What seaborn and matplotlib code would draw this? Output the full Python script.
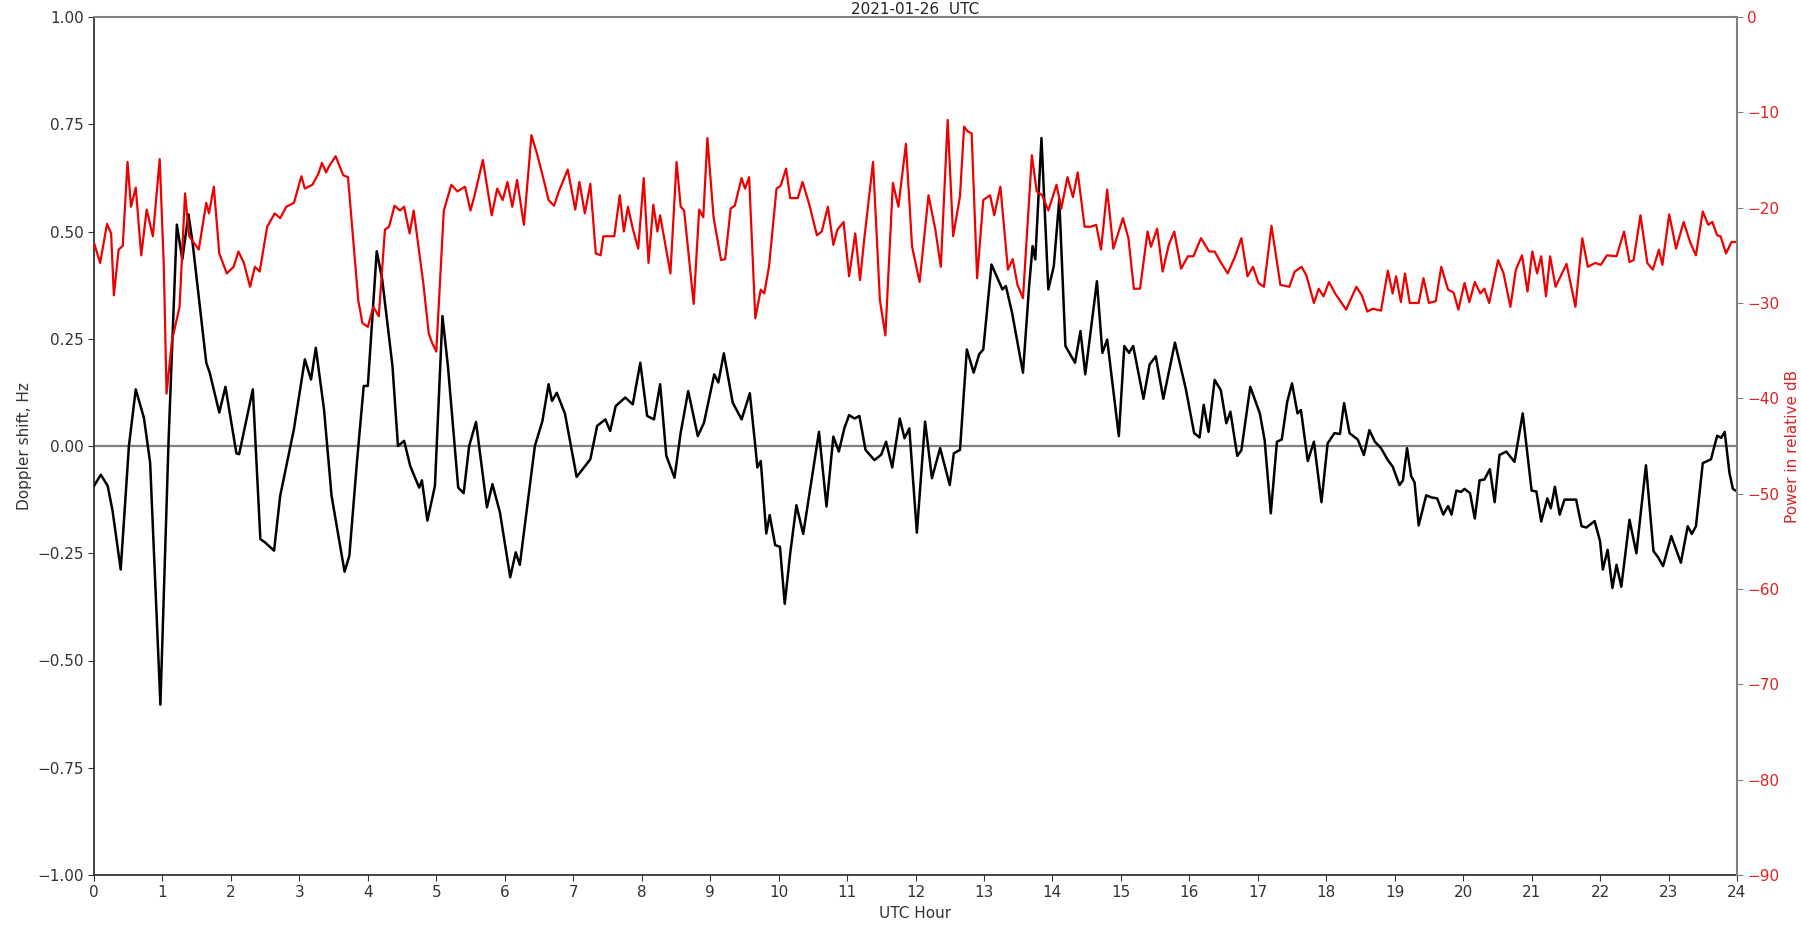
import numpy as np
import pandas as pd
import matplotlib
matplotlib.use("Agg")
import matplotlib.pyplot as plt
import seaborn as sns

# ---------------- data ----------------
doppler_hours = [
    0.00, 0.10, 0.20, 0.27, 0.39, 0.51, 0.61, 0.73, 0.82, 0.97, 1.09, 1.21, 1.29, 1.38, 1.44, 1.53,
    1.64, 1.69, 1.83, 1.92, 2.08, 2.12, 2.32, 2.43, 2.50, 2.63, 2.72, 2.92, 3.08, 3.17, 3.24, 3.36,
    3.47, 3.66, 3.73, 3.84, 3.94, 4.00, 4.13, 4.21, 4.36, 4.44, 4.53, 4.62, 4.75, 4.79, 4.87, 4.98,
    5.09, 5.17, 5.32, 5.40, 5.48, 5.58, 5.74, 5.82, 5.93, 6.08, 6.16, 6.22, 6.44, 6.55, 6.64, 6.69,
    6.76, 6.88, 7.05, 7.25, 7.35, 7.47, 7.54, 7.62, 7.76, 7.87, 7.98, 8.08, 8.18, 8.27, 8.36, 8.48,
    8.57, 8.68, 8.82, 8.91, 9.06, 9.12, 9.20, 9.33, 9.46, 9.58, 9.66, 9.69, 9.74, 9.82, 9.87, 9.95,
    10.02, 10.09, 10.17, 10.26, 10.36, 10.49, 10.59, 10.70, 10.80, 10.88, 10.96, 11.03, 11.11, 11.18,
    11.27, 11.40, 11.50, 11.57, 11.66, 11.77, 11.84, 11.91, 12.02, 12.14, 12.24, 12.36, 12.50, 12.56,
    12.65, 12.75, 12.85, 12.93, 12.99, 13.11, 13.27, 13.32, 13.41, 13.57, 13.66, 13.71, 13.75, 13.84,
    13.94, 14.02, 14.10, 14.19, 14.33, 14.41, 14.48, 14.65, 14.73, 14.80, 14.97, 15.05, 15.12, 15.18,
    15.33, 15.42, 15.51, 15.62, 15.79, 15.95, 16.07, 16.15, 16.21, 16.28, 16.37, 16.46, 16.54, 16.60,
    16.70, 16.76, 16.89, 17.03, 17.10, 17.19, 17.28, 17.35, 17.43, 17.50, 17.58, 17.63, 17.73, 17.82,
    17.93, 18.02, 18.12, 18.20, 18.26, 18.34, 18.46, 18.55, 18.63, 18.71, 18.80, 18.90, 18.97, 19.07,
    19.12, 19.18, 19.24, 19.29, 19.35, 19.46, 19.54, 19.62, 19.71, 19.78, 19.83, 19.90, 19.97, 20.02,
    20.10, 20.17, 20.24, 20.31, 20.39, 20.46, 20.53, 20.63, 20.75, 20.87, 21.00, 21.07, 21.14, 21.23,
    21.28, 21.34, 21.41, 21.48, 21.65, 21.73, 21.80, 21.92, 22.00, 22.04, 22.11, 22.18, 22.24, 22.31,
    22.43, 22.53, 22.67, 22.78, 22.85, 22.92, 23.04, 23.18, 23.28, 23.34, 23.40, 23.50, 23.62, 23.71,
    23.77, 23.82, 23.89, 23.94, 24.00,
]
doppler_hz = [
    -0.093, -0.067, -0.093, -0.15, -0.288, 0.0, 0.132, 0.065, -0.039, -0.603, 0.016, 0.516, 0.435, 0.54, 0.474, 0.349,
    0.194, 0.171, 0.078, 0.138, -0.017, -0.019, 0.132, -0.217, -0.225, -0.244, -0.116, 0.039, 0.202, 0.155, 0.229, 0.085,
    -0.116, -0.293, -0.256, -0.039, 0.14, 0.14, 0.454, 0.388, 0.186, 0.0, 0.012, -0.047, -0.097, -0.08, -0.174, -0.093,
    0.303, 0.186, -0.097, -0.11, 0.0, 0.056, -0.143, -0.089, -0.155, -0.306, -0.248, -0.277, 0.0, 0.058, 0.144, 0.105,
    0.124, 0.075, -0.072, -0.031, 0.047, 0.062, 0.035, 0.093, 0.113, 0.097, 0.194, 0.07, 0.062, 0.144, -0.023, -0.074,
    0.031, 0.128, 0.023, 0.054, 0.167, 0.148, 0.216, 0.101, 0.062, 0.123, 0.0, -0.05, -0.035, -0.204, -0.161, -0.231,
    -0.235, -0.368, -0.25, -0.138, -0.205, -0.071, 0.033, -0.141, 0.022, -0.013, 0.041, 0.072, 0.064, 0.07,
    -0.009, -0.033, -0.02, 0.01, -0.05, 0.064, 0.018, 0.041, -0.202, 0.057, -0.075, -0.005, -0.091, -0.017,
    -0.009, 0.225, 0.171, 0.214, 0.225, 0.423, 0.365, 0.373, 0.311, 0.171, 0.373, 0.466, 0.435, 0.718,
    0.365, 0.419, 0.575, 0.233, 0.194, 0.268, 0.167, 0.384, 0.217, 0.248, 0.023, 0.233, 0.217, 0.233,
    0.11, 0.19, 0.209, 0.11, 0.241, 0.132, 0.03, 0.02, 0.096, 0.033, 0.154, 0.13, 0.053, 0.08,
    -0.023, -0.01, 0.138, 0.076, 0.014, -0.157, 0.01, 0.015, 0.103, 0.146, 0.076, 0.084, -0.035, 0.01,
    -0.131, 0.006, 0.03, 0.028, 0.1, 0.03, 0.015, -0.021, 0.037, 0.01, -0.005, -0.033, -0.048, -0.091,
    -0.08, -0.005, -0.07, -0.085, -0.185, -0.115, -0.12, -0.122, -0.16, -0.14, -0.16, -0.104, -0.107, -0.1,
    -0.11, -0.169, -0.08, -0.078, -0.054, -0.131, -0.021, -0.013, -0.037, 0.076, -0.104, -0.106, -0.176, -0.122,
    -0.145, -0.095, -0.16, -0.125, -0.125, -0.187, -0.19, -0.175, -0.222, -0.288, -0.242, -0.331, -0.277, -0.328,
    -0.172, -0.25, -0.045, -0.245, -0.26, -0.28, -0.21, -0.272, -0.187, -0.205, -0.187, -0.04, -0.031, 0.024,
    0.019, 0.033, -0.063, -0.1, -0.106,
]

power_hours = [
    0.00, 0.09, 0.19, 0.25, 0.29, 0.36, 0.42, 0.49, 0.54, 0.61, 0.69, 0.77, 0.86, 0.96, 1.02, 1.06,
    1.14, 1.25, 1.33, 1.39, 1.53, 1.64, 1.68, 1.75, 1.83, 1.94, 2.04, 2.11, 2.19, 2.28, 2.35, 2.42,
    2.53, 2.64, 2.72, 2.81, 2.92, 3.03, 3.08, 3.19, 3.28, 3.33, 3.39, 3.44, 3.53, 3.64, 3.71, 3.86,
    3.92, 4.00, 4.08, 4.16, 4.25, 4.31, 4.39, 4.47, 4.53, 4.61, 4.67, 4.81, 4.89, 4.94, 5.00, 5.11,
    5.22, 5.31, 5.42, 5.50, 5.56, 5.68, 5.81, 5.89, 5.97, 6.04, 6.11, 6.18, 6.28, 6.39, 6.47, 6.58,
    6.64, 6.72, 6.79, 6.92, 7.03, 7.09, 7.17, 7.25, 7.33, 7.40, 7.44, 7.60, 7.68, 7.74, 7.80, 7.87,
    7.95, 8.03, 8.10, 8.17, 8.23, 8.27, 8.42, 8.51, 8.57, 8.62, 8.76, 8.84, 8.90, 8.96, 9.05, 9.16,
    9.22, 9.30, 9.36, 9.46, 9.51, 9.57, 9.66, 9.74, 9.79, 9.86, 9.97, 10.03, 10.11, 10.17, 10.28, 10.35,
    10.45, 10.56, 10.63, 10.72, 10.80, 10.86, 10.95, 11.03, 11.12, 11.19, 11.25, 11.38, 11.48, 11.56, 11.67, 11.75,
    11.86, 11.95, 12.06, 12.19, 12.29, 12.37, 12.47, 12.55, 12.65, 12.71, 12.76, 12.82, 12.90, 12.99, 13.09, 13.15,
    13.24, 13.35, 13.42, 13.49, 13.57, 13.70, 13.77, 13.85, 13.94, 14.06, 14.13, 14.22, 14.30, 14.37, 14.47, 14.56,
    14.64, 14.71, 14.80, 14.89, 15.03, 15.11, 15.19, 15.28, 15.39, 15.44, 15.53, 15.61, 15.70, 15.78, 15.88, 15.98,
    16.06, 16.17, 16.29, 16.37, 16.44, 16.56, 16.67, 16.76, 16.85, 16.93, 17.01, 17.09, 17.20, 17.33, 17.46, 17.54,
    17.64, 17.71, 17.82, 17.89, 17.96, 18.04, 18.13, 18.29, 18.44, 18.52, 18.60, 18.68, 18.80, 18.90, 18.97, 19.02,
    19.09, 19.15, 19.22, 19.35, 19.42, 19.50, 19.60, 19.68, 19.78, 19.86, 19.93, 20.02, 20.09, 20.17, 20.25, 20.31,
    20.38, 20.51, 20.59, 20.69, 20.77, 20.86, 20.94, 21.01, 21.08, 21.14, 21.21, 21.27, 21.35, 21.43, 21.51, 21.64,
    21.74, 21.82, 21.93, 22.01, 22.10, 22.24, 22.35, 22.43, 22.49, 22.59, 22.69, 22.77, 22.86, 22.91, 23.01, 23.11,
    23.22, 23.32, 23.40, 23.50, 23.58, 23.64, 23.71, 23.76, 23.84, 23.92, 24.00,
]
power_db = [
    -23.7, -25.8, -21.7, -22.7, -29.2, -24.4, -24.0, -15.2, -19.9, -17.9, -25.0, -20.2, -23.0, -14.9, -26.2, -39.5,
    -33.9, -30.4, -18.5, -23.0, -24.4, -19.5, -20.6, -17.8, -24.8, -26.9, -26.2, -24.6, -25.8, -28.3, -26.2, -26.7,
    -22.0, -20.6, -21.1, -19.9, -19.5, -16.7, -18.0, -17.6, -16.4, -15.3, -16.3, -15.6, -14.6, -16.6, -16.8, -29.7,
    -32.1, -32.5, -30.4, -31.4, -22.3, -22.0, -19.8, -20.3, -19.9, -22.7, -20.3, -27.9, -33.2, -34.2, -35.1, -20.3,
    -17.6, -18.3, -17.8, -20.3, -18.7, -15.0, -20.8, -18.0, -19.2, -17.3, -19.9, -17.1, -21.8, -12.4, -14.3, -17.4,
    -19.2, -19.8, -18.3, -16.0, -20.2, -17.3, -20.6, -17.5, -24.8, -25.0, -23.0, -23.0, -18.7, -22.5, -19.9, -22.2,
    -24.3, -16.9, -25.8, -19.7, -22.5, -20.8, -26.9, -15.2, -19.9, -20.3, -30.1, -20.2, -21.0, -12.7, -21.0, -25.5,
    -25.4, -20.1, -19.8, -16.9, -18.0, -16.8, -31.6, -28.6, -29.0, -26.2, -18.0, -17.7, -15.9, -19.0, -19.0, -17.3,
    -19.7, -22.9, -22.5, -19.9, -23.9, -22.3, -21.5, -27.2, -22.7, -27.6, -23.4, -15.2, -29.7, -33.4, -17.4, -19.9,
    -13.3, -24.1, -27.8, -18.7, -22.3, -26.2, -10.8, -23.0, -18.8, -11.5, -12.0, -12.2, -27.4, -19.2, -18.7, -20.8,
    -17.8, -26.5, -25.4, -28.1, -29.5, -14.5, -18.3, -18.7, -20.3, -17.6, -20.1, -16.8, -18.9, -16.3, -22.0, -22.0,
    -21.8, -24.4, -18.1, -24.3, -21.1, -23.2, -28.5, -28.5, -22.5, -24.1, -22.2, -26.7, -23.9, -22.5, -26.4, -25.1,
    -25.1, -23.2, -24.6, -24.6, -25.5, -26.9, -25.1, -23.2, -27.2, -26.2, -27.9, -28.3, -21.9, -28.1, -28.3, -26.7,
    -26.2, -27.1, -30.0, -28.5, -29.3, -27.8, -29.0, -30.7, -28.3, -29.2, -30.9, -30.6, -30.8, -26.6, -29.0, -27.2,
    -29.9, -26.9, -30.0, -30.0, -27.4, -30.0, -29.8, -26.2, -28.6, -28.9, -30.7, -27.9, -29.9, -27.8, -29.0, -28.5,
    -30.0, -25.5, -26.9, -30.4, -26.5, -25.0, -28.8, -24.6, -26.9, -25.1, -29.3, -25.1, -28.3, -27.1, -25.9, -30.4,
    -23.2, -26.2, -25.8, -26.0, -25.0, -25.1, -22.5, -25.7, -25.5, -20.8, -25.8, -26.5, -24.4, -26.0, -20.7, -24.3,
    -21.5, -23.7, -25.0, -20.4, -21.8, -21.5, -22.9, -23.0, -24.8, -23.6, -23.6,
]

hour_ticks = list(range(0, 25))
doppler_ticks = [-1.00, -0.75, -0.50, -0.25, 0.00, 0.25, 0.50, 0.75, 1.00]
power_ticks = [0, -10, -20, -30, -40, -50, -60, -70, -80, -90]
title_text = "2021-01-26  UTC"

# ---------------- figure ----------------
sns.set_style("ticks")
plt.rcParams["font.family"] = ["DejaVu Sans"]

fig = plt.figure(figsize=(18.01, 9.25), dpi=100)
ax = fig.add_axes([94 / 1801, 1 - 875 / 925, (1737 - 94) / 1801, (875 - 17) / 925])

df_d = pd.DataFrame({"hour": doppler_hours, "doppler": doppler_hz})
df_p = pd.DataFrame({"hour": power_hours, "power": power_db})

ax.axhline(0, color="#808080", lw=1.6, zorder=1)
sns.lineplot(data=df_d, x="hour", y="doppler", ax=ax, color="black", lw=1.8,
             estimator=None, sort=False, zorder=3)

ax2 = ax.twinx()
sns.lineplot(data=df_p, x="hour", y="power", ax=ax2, color="#ee0000", lw=1.6,
             estimator=None, sort=False, zorder=2)

ax.set_xlim(0, 24)
ax.set_ylim(-1, 1)
ax2.set_ylim(-90, 0)
ax.set_xticks(hour_ticks)
ax.set_xticklabels([str(h) for h in hour_ticks])
ax.set_yticks(doppler_ticks)
ax.set_yticklabels([f"{t:.2f}".replace("-", "\u2212") for t in doppler_ticks])
ax2.set_yticks(power_ticks)
ax2.set_yticklabels([str(t).replace("-", "\u2212") for t in power_ticks])

ax.set_xlabel("UTC Hour", fontsize=11, color="#333333")
ax.set_ylabel("Doppler shift, Hz", fontsize=11, color="#333333")
ax2.set_ylabel("Power in relative dB", fontsize=11, color="#dd2222")

ax.tick_params(axis="both", labelsize=11, colors="#333333", length=4)
ax2.tick_params(axis="y", labelsize=11, colors="#dd2222", length=4)
ax2.tick_params(axis="y", color="#808080")

for s in ["left", "bottom"]:
    ax.spines[s].set_color("#333333")
    ax.spines[s].set_linewidth(1.3)
for s in ["top", "right"]:
    ax2.spines[s].set_color("#808080")
    ax2.spines[s].set_linewidth(1.5)
    ax.spines[s].set_visible(False)
ax2.spines["left"].set_visible(False)
ax2.spines["bottom"].set_visible(False)

fig.text(915 / 1801, 1 - 14 / 925, title_text, ha="center", va="baseline",
         fontsize=11, color="#222222")

fig.savefig("out.png", dpi=100)
